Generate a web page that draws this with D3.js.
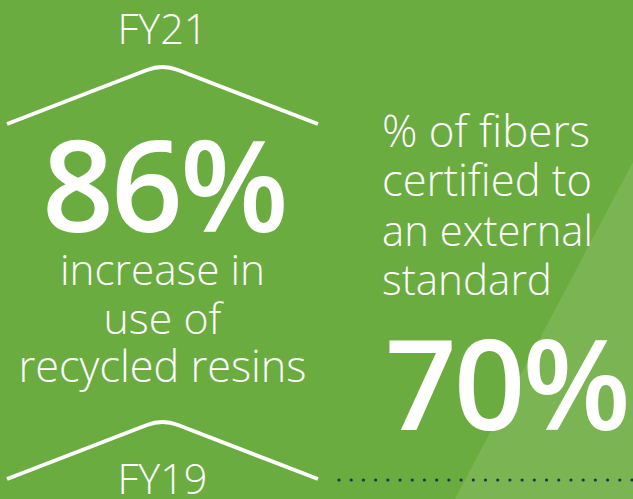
<!DOCTYPE html>
<html>
<head>
<meta charset="utf-8">
<script src="https://cdn.jsdelivr.net/npm/d3@7"></script>
<style>
  html, body { margin: 0; padding: 0; background: #6aac3f; }
  svg { display: block; }
  text { font-family: "Open Sans", "Noto Sans", sans-serif; fill: #ffffff; }
</style>
</head>
<body>
<svg id="chart" width="633" height="499"></svg>
<script>
// Headline figures
const statValues = [86, 70];
const statUnits = ["%", "%"];
// Fiscal years bracketing the resin comparison
const yearLabels = ["FY21", "FY19"];
// Descriptive lines under / above each figure
const resinLines = ["increase in", "use of", "recycled resins"];
const fiberLines = ["% of fibers", "certified to", "an external", "standard"];
// Dotted rule: number of dots
const dotCount = 25;

const W = 633, H = 499;
const svg = d3.select("#chart");

// background panels
svg.append("rect").attr("width", W).attr("height", H).attr("fill", "#6aac3f");
svg.append("path")
  .attr("d", d3.line()([[633, 162], [633, 499], [455, 499]]) + "Z")
  .attr("fill", "#7bb553");

// Chevron bracket shape (roof), drawn at two vertical offsets
const x = d3.scaleLinear().domain([0, 1]).range([7, 318]);
function chevron(yBase) {
  const p = d3.path();
  p.moveTo(x(0), yBase);
  p.lineTo(147, yBase - 54);
  p.quadraticCurveTo(162.5, yBase - 60, 178, yBase - 54);
  p.lineTo(x(1), yBase);
  return p.toString();
}
[124, 479].forEach(yb => {
  svg.append("path")
    .attr("d", chevron(yb))
    .attr("fill", "none")
    .attr("stroke", "#ffffff")
    .attr("stroke-width", 4)
    .attr("stroke-linejoin", "round");
});

// fit a text element to a target width
function fitWidth(sel, w) {
  const node = sel.node();
  const cur = node.getComputedTextLength();
  const fs = parseFloat(sel.attr("font-size"));
  sel.attr("font-size", fs * w / cur);
}

const cx = 162.5;

// Year labels
const fy21 = svg.append("text").text(yearLabels[0])
  .attr("x", cx).attr("y", 44).attr("text-anchor", "middle")
  .attr("font-size", 44).attr("font-weight", 300);
fitWidth(fy21, 90);
const fy19 = svg.append("text").text(yearLabels[1])
  .attr("x", cx).attr("y", 494).attr("text-anchor", "middle")
  .attr("font-size", 44).attr("font-weight", 300);
fitWidth(fy19, 90);

// Resin figure
const big1 = svg.append("text").text(statValues[0] + statUnits[0])
  .attr("x", 164).attr("y", 232).attr("text-anchor", "middle")
  .attr("font-size", 128).attr("font-weight", 600)
  .attr("letter-spacing", -3);
fitWidth(big1, 244);

const resinY = d3.scalePoint().domain(resinLines).range([285, 382]);
const resinW = { "increase in": 205, "use of": 118, "recycled resins": 288 };
resinLines.forEach(l => {
  const t = svg.append("text").text(l)
    .attr("x", cx).attr("y", resinY(l)).attr("text-anchor", "middle")
    .attr("font-size", 40).attr("font-weight", 300);
  fitWidth(t, resinW[l]);
});

// Fiber figure
const fiberY = d3.scalePoint().domain(fiberLines).range([147, 295]);
const fiberW = { "% of fibers": 208, "certified to": 210, "an external": 211, "standard": 170 };
fiberLines.forEach(l => {
  const t = svg.append("text").text(l)
    .attr("x", 382).attr("y", fiberY(l))
    .attr("font-size", 40).attr("font-weight", 300);
  fitWidth(t, fiberW[l]);
});

const big2 = svg.append("text").text(statValues[1] + statUnits[1])
  .attr("x", 385).attr("y", 430)
  .attr("font-size", 128).attr("font-weight", 600)
  .attr("letter-spacing", -3);
fitWidth(big2, 243);

// Dotted rule
const dx = d3.scaleLinear().domain([0, dotCount - 1]).range([339, 632]);
svg.append("g").selectAll("circle")
  .data(d3.range(dotCount))
  .join("circle")
  .attr("cx", d => dx(d)).attr("cy", 480).attr("r", 1.6)
  .attr("fill", "#1c3350");
</script>
</body>
</html>
